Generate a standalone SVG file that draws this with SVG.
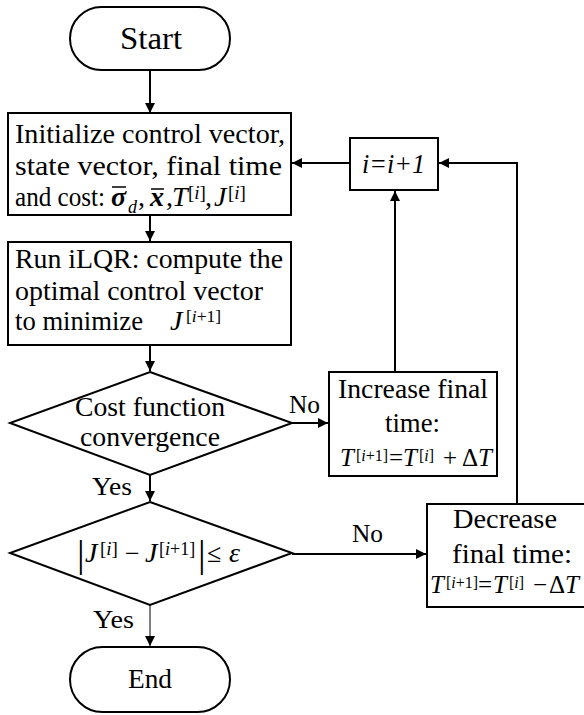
<svg xmlns="http://www.w3.org/2000/svg" width="584" height="715" viewBox="0 0 584 715" font-family="Liberation Serif, Times New Roman, serif">
  <defs>
    <marker id="arrow" viewBox="0 0 10 10" refX="10" refY="5" markerWidth="5" markerHeight="5" orient="auto" markerUnits="strokeWidth">
      <path d="M0,0 L10,5 L0,10 z" fill="#000"/>
    </marker>
    <marker id="arrowThin" viewBox="0 0 10 10" refX="10" refY="5" markerWidth="10" markerHeight="10" orient="auto" markerUnits="strokeWidth">
      <path d="M0,0 L10,5 L0,10 z" fill="#000"/>
    </marker>
  </defs>

  <rect width="584" height="715" fill="#fff"/>

  <!-- connectors -->
  <g id="connectors" fill="none" stroke="#000" stroke-width="2" marker-end="url(#arrow)">
    <line x1="150" y1="70" x2="150" y2="113"/>
    <line x1="150" y1="215" x2="150" y2="241"/>
    <line x1="150" y1="345" x2="150" y2="371"/>
    <line x1="150" y1="475" x2="150" y2="501"/>
    <line x1="150" y1="605" x2="150" y2="646" stroke-width="1" marker-end="url(#arrowThin)"/>
    <line x1="292" y1="423" x2="328" y2="423"/>
    <line x1="395" y1="372" x2="395" y2="191"/>
    <line x1="350" y1="163" x2="292" y2="163"/>
    <line x1="292" y1="554" x2="426" y2="554"/>
    <polyline points="517,504 517,163 439,163"/>
  </g>
  <g id="edge-labels" font-size="26">
    <text font-family="Liberation Serif" x="289" y="413" textLength="31" lengthAdjust="spacingAndGlyphs">No</text>
    <text font-family="Liberation Serif" x="352" y="542" textLength="31" lengthAdjust="spacingAndGlyphs">No</text>
    <text font-family="Liberation Serif" x="92" y="495" textLength="40" lengthAdjust="spacingAndGlyphs">Yes</text>
    <text font-family="Liberation Serif" x="93" y="628" textLength="41" lengthAdjust="spacingAndGlyphs">Yes</text>
  </g>

  <g id="start">
    <rect x="70" y="7" width="160" height="63" rx="31.5" fill="#fff" stroke="#000" stroke-width="2"/>
    <text font-family="Liberation Serif" font-size="32" x="120" y="49" textLength="62" lengthAdjust="spacingAndGlyphs">Start</text>
  </g>

  <g id="init" font-size="28">
    <rect x="8" y="113" width="283" height="102" fill="#fff" stroke="#000" stroke-width="2"/>
    <text font-family="Liberation Serif" x="15" y="143" textLength="270" lengthAdjust="spacingAndGlyphs">Initialize control vector,</text>
    <text font-family="Liberation Serif" x="15" y="175" textLength="267" lengthAdjust="spacingAndGlyphs">state vector, final time</text>
    <text font-family="Liberation Serif" x="15" y="206" textLength="90" lengthAdjust="spacingAndGlyphs">and cost:</text>
    <!-- sigma bar with subscript d, x bar, T and J -->
    <text font-family="Liberation Serif" font-style="italic" font-weight="bold" x="111" y="206">σ</text>
    <line x1="112" y1="187" x2="126" y2="187" stroke="#000" stroke-width="1.5"/>
    <text font-family="Liberation Serif" font-size="18" font-style="italic" x="128" y="213">d</text>
    <text font-family="Liberation Serif" x="138" y="206">,</text>
    <text font-family="Liberation Serif" font-style="italic" font-weight="bold" x="150" y="206">x</text>
    <line x1="151" y1="189" x2="164" y2="189" stroke="#000" stroke-width="1.5"/>
    <text font-family="Liberation Serif" x="166" y="206">,</text>
    <text font-family="Liberation Serif" font-style="italic" x="172" y="206">T</text>
    <text font-family="Liberation Serif" font-size="19" x="188" y="199">[<tspan font-style="italic">i</tspan>]</text>
    <text font-family="Liberation Serif" x="205" y="206">,</text>
    <text font-family="Liberation Serif" font-style="italic" x="214" y="206">J</text>
    <text font-family="Liberation Serif" font-size="19" x="228" y="199">[<tspan font-style="italic">i</tspan>]</text>
  </g>

  <g id="ilqr" font-size="28">
    <rect x="8" y="242" width="283" height="103" fill="#fff" stroke="#000" stroke-width="2"/>
    <text font-family="Liberation Serif" x="15" y="268" textLength="268" lengthAdjust="spacingAndGlyphs">Run iLQR: compute the</text>
    <text font-family="Liberation Serif" x="15" y="300" textLength="248" lengthAdjust="spacingAndGlyphs">optimal control vector</text>
    <text font-family="Liberation Serif" x="15" y="330" textLength="128" lengthAdjust="spacingAndGlyphs">to minimize</text>
    <text font-family="Liberation Serif" font-style="italic" x="170" y="330">J</text>
    <text font-family="Liberation Serif" font-size="17.5" x="186" y="322">[<tspan font-style="italic">i</tspan>+1]</text>
  </g>

  <g id="convergence" font-size="28">
    <polygon points="150,372 292,423 150,475 10,423" fill="#fff" stroke="#000" stroke-width="2"/>
    <text font-family="Liberation Serif" x="75" y="416" textLength="150" lengthAdjust="spacingAndGlyphs">Cost function</text>
    <text font-family="Liberation Serif" x="80" y="446" textLength="140" lengthAdjust="spacingAndGlyphs">convergence</text>
  </g>

  <g id="tolerance">
    <polygon points="150,502 292,553 150,605 10,553" fill="#fff" stroke="#000" stroke-width="2"/>
    <text font-family="Liberation Serif" font-size="38" x="77" y="567">|</text>
    <text font-family="Liberation Serif" font-size="28" font-style="italic" x="85" y="562">J</text>
    <text font-family="Liberation Serif" font-size="19" x="100" y="555">[<tspan font-style="italic">i</tspan>]</text>
    <text font-family="Liberation Serif" font-size="26" x="125" y="562">−</text>
    <text font-family="Liberation Serif" font-size="28" font-style="italic" x="145" y="562">J</text>
    <text font-family="Liberation Serif" font-size="18" x="159" y="555">[<tspan font-style="italic">i</tspan>+1]</text>
    <text font-family="Liberation Serif" font-size="38" x="198" y="567">|</text>
    <text font-family="Liberation Serif" font-size="26" x="207" y="562">≤</text>
    <text font-family="Liberation Serif" font-size="28" font-style="italic" x="229" y="562">ε</text>
  </g>

  <g id="increment">
    <rect x="350" y="138" width="88" height="52" fill="#fff" stroke="#000" stroke-width="2"/>
    <text font-family="Liberation Serif" font-size="27" font-style="italic" x="362" y="173" textLength="63" lengthAdjust="spacingAndGlyphs">i=i+1</text>
  </g>

  <g id="increase" font-size="25">
    <rect x="329" y="372" width="168" height="104" fill="#fff" stroke="#000" stroke-width="2"/>
    <text font-family="Liberation Serif" font-size="28" x="338" y="398" textLength="150" lengthAdjust="spacingAndGlyphs">Increase final</text>
    <text font-family="Liberation Serif" font-size="28" x="385" y="432" textLength="55" lengthAdjust="spacingAndGlyphs">time:</text>
    <text font-family="Liberation Serif" font-style="italic" x="340" y="466">T</text>
    <text font-family="Liberation Serif" font-size="16" x="356" y="461">[<tspan font-style="italic">i</tspan>+1]</text>
    <text font-family="Liberation Serif" x="389" y="466">=</text>
    <text font-family="Liberation Serif" font-style="italic" x="403" y="466">T</text>
    <text font-family="Liberation Serif" font-size="16" x="419" y="461">[<tspan font-style="italic">i</tspan>]</text>
    <text font-family="Liberation Serif" x="443" y="466">+</text>
    <text font-family="Liberation Serif" x="462" y="466">Δ</text>
    <text font-family="Liberation Serif" font-style="italic" x="478" y="466">T</text>
  </g>

  <g id="decrease" font-size="25">
    <rect x="427" y="504" width="160" height="103" fill="#fff" stroke="#000" stroke-width="2"/>
    <text font-family="Liberation Serif" font-size="28" x="453" y="528" textLength="104" lengthAdjust="spacingAndGlyphs">Decrease</text>
    <text font-family="Liberation Serif" font-size="28" x="452" y="563" textLength="120" lengthAdjust="spacingAndGlyphs">final time:</text>
    <text font-family="Liberation Serif" font-style="italic" x="430" y="593">T</text>
    <text font-family="Liberation Serif" font-size="16" x="446" y="588">[<tspan font-style="italic">i</tspan>+1]</text>
    <text font-family="Liberation Serif" x="478" y="593">=</text>
    <text font-family="Liberation Serif" font-style="italic" x="493" y="593">T</text>
    <text font-family="Liberation Serif" font-size="16" x="509" y="588">[<tspan font-style="italic">i</tspan>]</text>
    <text font-family="Liberation Serif" x="533" y="593">−</text>
    <text font-family="Liberation Serif" x="549" y="593">Δ</text>
    <text font-family="Liberation Serif" font-style="italic" x="565" y="593">T</text>
  </g>

  <g id="end">
    <rect x="70" y="647" width="160" height="65" rx="32.5" fill="#fff" stroke="#000" stroke-width="2"/>
    <text font-family="Liberation Serif" font-size="28" x="128" y="688" textLength="44" lengthAdjust="spacingAndGlyphs">End</text>
  </g>
</svg>
